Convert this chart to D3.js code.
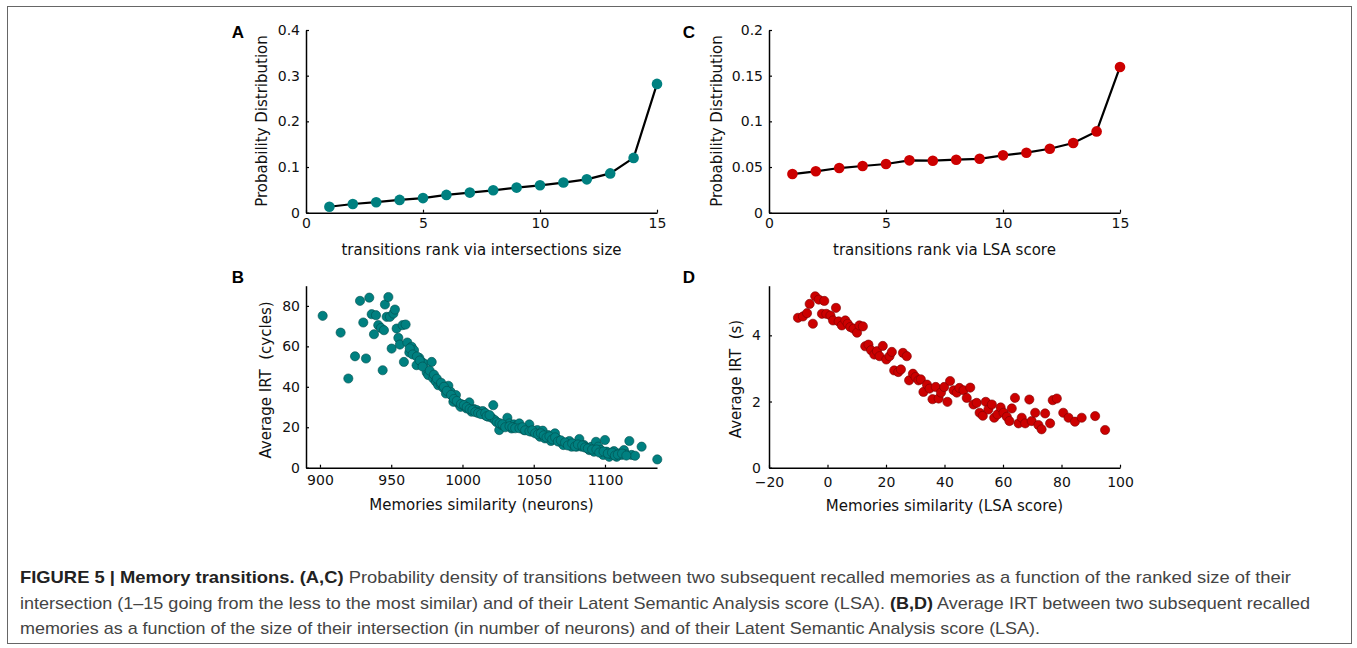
<!DOCTYPE html>
<html><head><meta charset="utf-8">
<script src="https://cdn.jsdelivr.net/npm/d3@7"></script>
<style>body{margin:0;background:#fff}svg{display:block}
.chart text{font-family:"DejaVu Sans",sans-serif}
.cap{font-family:"Liberation Sans Narrow","Arial Narrow","Liberation Sans",Arial,sans-serif}
.letter{font-family:"Liberation Sans",Arial,sans-serif}
.pre{white-space:pre}
</style>
</head><body>
<script>
// ---- data ----
const ranks = [1,2,3,4,5,6,7,8,9,10,11,12,13,14,15];
const probIntersection = [0.013,0.019,0.023,0.028,0.032,0.039,0.044,0.049,0.055,0.060,0.066,0.073,0.086,0.120,0.282];
const probLSA = [0.0423,0.0453,0.0489,0.0511,0.0533,0.0573,0.0569,0.058,0.059,0.0628,0.0657,0.070,0.0763,0.089,0.1595];

const simNeurons = [901.9,914.5,919.9,924.6,928.1,930.4,932.3,934.6,936.3,937.9,939.3,940.9,942.8,944.0,944.9,945.6,946.8,948.0,949.1,950.3,951.5,952.6,953.8,955.0,956.1,958.0,958.9,960.1,961.3,962.7,964.3,966.0,967.8,969.7,971.3,973.0,974.9,976.0,978.4,979.5,981.4,983.0,984.7,986.5,988.4,990.1,991.7,993.6,995.4,997.1,998.7,1000.6,1002.9,1004.8,1006.4,1008.1,1010.0,1012.3,1014.2,1015.8,1018.1,1021.6,1020.5,1022.8,1025.8,1027.5,1029.1,1031.5,1032.9,1034.5,1036.1,1038.0,1039.9,1041.5,1043.2,1045.0,1046.9,1048.5,1050.9,1052.5,1054.4,1056.3,1057.9,1060.2,1062.1,1064.9,1066.6,1068.4,1070.8,1073.1,1075.0,1076.6,1078.2,1080.1,1082.0,1083.6,1085.3,1087.1,1089.0,1090.6,1092.3,1093.7,1095.3,1097.0,1098.8,1100.0,1101.2,1103.0,1104.7,1106.3,1108.2,1110.1,1111.7,1113.3,1114.7,1117.1,1118.7,1121.1,1125.7,1136.7,
963,965,968,970,972,977,980,982,985,987,989,992,994,996,999,1001,1003,1005,1007,1009,1011,1013,1016,1017,1019,1024,1026,1028,1030,1033,1035,1037,1040,1042,1044,1047,1049,1051,1053,1055,1057,1059,1061,1063,1065,1067,1069,1072,1074,1077,1079,1081,1084,1086,1088,1091,1094,1096,1099,1102,1105,1107,1109,1112,1115];
const irtCycles = [75.1,66.8,44.1,55.1,82.5,71.8,54.0,84.1,75.9,66.0,75.4,70.5,69.1,48.2,68.0,80.7,74.6,84.4,74.6,58.9,76.2,78.2,68.8,64.2,60.9,70.5,52.3,70.8,61.9,57.0,59.8,58.1,50.7,54.3,52.3,51.5,47.1,45.8,52.3,44.1,42.5,40.8,41.3,39.5,36.7,40.5,37.5,32.6,35.9,31.8,30.1,30.9,29.3,32.3,27.7,29.0,28.5,27.7,28.0,26.0,25.2,30.9,24.7,23.5,18.6,21.1,20.7,24.7,21.9,19.4,21.4,20.7,21.9,19.4,18.6,19.4,21.4,17.8,17.8,18.6,15.3,18.3,14.5,16.1,13.2,17.0,14.2,12.8,11.2,12.0,13.2,10.4,11.5,10.4,14.2,10.4,11.2,9.9,8.7,10.4,7.9,12.8,10.4,8.7,6.3,13.7,7.9,5.4,6.6,8.2,5.4,7.1,6.3,8.7,6.6,13.2,6.3,5.9,10.4,4.1,
59,56,55,53,50,48,46,44,42,40,38,36,34,33,31.5,31,30,29,28.5,27.5,27,26.5,27,25.5,26,22.5,22,21.5,20,20.5,20,19.5,19.5,20,18.5,18,18.5,17,16.5,17,16,15,15.5,14,15,13,13.5,12.5,11,12,10.5,11.5,11,10,9.5,9,9,7.5,8,7,7.5,6,6.5,7,6];

const simLSA = [-10.1,-8.4,-7.0,-6.1,-5.0,-4.2,-3.0,-1.9,-1.1,-0.4,1.0,1.9,2.9,3.8,4.9,6.1,6.9,7.8,8.9,10.1,10.9,12.1,12.9,14.0,14.9,16.0,16.9,17.8,18.9,20.1,21.2,22.0,22.8,24.2,25.1,25.8,27.1,27.9,29.2,30.1,31.1,31.9,32.8,34.0,34.9,35.9,37.0,38.0,38.8,39.9,41.0,41.9,43.1,44.2,45.1,46.5,47.6,48.8,49.9,51.0,52.0,53.1,54.1,55.0,56.2,57.0,58.1,59.2,60.2,61.3,62.2,63.0,64.1,65.3,66.4,67.6,69.0,69.8,71.0,72.1,73.2,74.4,76.1,77.0,78.4,80.6,82.4,84.6,86.9,91.5,94.9];
const irtSeconds = [4.53,4.57,4.67,4.95,4.35,5.18,5.08,4.65,5.04,4.65,4.6,4.45,4.83,4.42,4.3,4.45,4.35,4.25,4.2,4.08,4.3,4.27,3.67,3.72,3.55,3.42,3.52,3.37,3.68,3.27,3.37,3.5,2.94,2.89,2.97,3.47,3.37,2.64,2.84,2.74,2.64,2.67,2.29,2.51,2.39,2.07,2.44,2.09,2.27,2.44,1.99,2.62,2.34,2.27,2.41,2.34,2.11,2.42,1.91,1.96,1.66,1.57,1.99,1.76,1.91,1.51,1.61,1.82,1.66,1.54,1.41,1.79,2.11,1.34,1.51,1.34,2.06,1.41,1.66,1.29,1.16,1.64,1.34,2.04,2.09,1.66,1.51,1.39,1.51,1.56,1.14];

const ticksA_x = [0,5,10,15], ticksA_y = [0,0.1,0.2,0.3,0.4];
const ticksC_y = [0,0.05,0.1,0.15,0.2];
const ticksB_x = [900,950,1000,1050,1100], ticksB_y = [0,20,40,60,80];
const ticksD_x = [-20,0,20,40,60,80,100], ticksD_y = [0,2,4];

const TEAL = "#008080", TEAL_DARK = "#004d4d", RED = "#cc0000", RED_DARK = "#7a0000";

const svg = d3.select("body").append("svg").attr("width",1357).attr("height",648);
svg.append("rect").attr("x",7.5).attr("y",6.5).attr("width",1344).attr("height",637)
  .attr("fill","none").attr("stroke","#666").attr("stroke-width",1);
const chart = svg.append("g").attr("class","chart");

const fmt = d => (d < 0 ? "\u2212" + (-d) : String(+(+d).toFixed(2)));

function panel(o){
  const x = d3.scaleLinear().domain(o.xDomain).range([o.x0,o.x1]);
  const y = d3.scaleLinear().domain(o.yDomain).range([o.y0,o.y1]);
  const gx = chart.append("g").attr("transform",`translate(0,${o.y0})`)
    .call(d3.axisBottom(x).tickValues(o.xTicks).tickFormat(fmt).tickSizeInner(-3).tickSizeOuter(0).tickPadding(o.xPad));
  const gy = chart.append("g").attr("transform",`translate(${o.x0},0)`)
    .call(d3.axisLeft(y).tickValues(o.yTicks).tickFormat(fmt).tickSizeInner(-3).tickSizeOuter(0).tickPadding(o.yPad || 6));
  [gx,gy].forEach(g=>{
    g.attr("font-family",null).attr("font-size",null);
    g.select(".domain").attr("stroke","#000").attr("stroke-width",1.5);
    g.selectAll(".tick line").attr("stroke","#000").attr("stroke-width",1.2);
    g.selectAll(".tick text").style("font-size","14px").attr("fill","#111");
  });
  chart.append("text").attr("x",(o.x0+o.x1)/2).attr("y",o.xLabelY).attr("text-anchor","middle")
    .attr("dominant-baseline","central").style("font-size","15px").attr("fill","#111").text(o.xLabel);
  chart.append("text").attr("class","pre").attr("transform",`translate(${o.yLabelX},${o.yLabelCY}) rotate(-90)`).attr("text-anchor","middle")
    .attr("dominant-baseline","central").style("font-size","15px").attr("fill","#111").text(o.yLabel);
  svg.append("text").attr("class","letter").attr("x",o.letterX).attr("y",o.letterY).attr("text-anchor","middle").attr("dominant-baseline","central")
    .attr("font-weight","bold").style("font-size","17px").attr("fill","#000").text(o.letter);
  return {x,y};
}

// A
let s = panel({x0:306,x1:657,y0:212.7,y1:30,xDomain:[0,15],yDomain:[0,0.4],xTicks:ticksA_x,yTicks:ticksA_y,xPad:5,
  xLabel:"transitions rank via intersections size",xLabelY:250,yLabel:"Probability Distribution",yLabelX:262,yLabelCY:121,
  letter:"A",letterX:238,letterY:32});
chart.append("path").datum(ranks.map((r,i)=>[r,probIntersection[i]]))
  .attr("d",d3.line().x(d=>s.x(d[0])).y(d=>s.y(d[1]))).attr("fill","none").attr("stroke","#000").attr("stroke-width",2.2);
chart.append("g").selectAll("circle").data(ranks.map((r,i)=>[r,probIntersection[i]])).join("circle")
  .attr("cx",d=>s.x(d[0])).attr("cy",d=>s.y(d[1])).attr("r",5.3).attr("fill",TEAL);

// C
s = panel({x0:769,x1:1120,y0:212.7,y1:30,xDomain:[0,15],yDomain:[0,0.2],xTicks:ticksA_x,yTicks:ticksC_y,xPad:5,
  xLabel:"transitions rank via LSA score",xLabelY:250,yLabel:"Probability Distribution",yLabelX:717,yLabelCY:121,
  letter:"C",letterX:689,letterY:32});
chart.append("path").datum(ranks.map((r,i)=>[r,probLSA[i]]))
  .attr("d",d3.line().x(d=>s.x(d[0])).y(d=>s.y(d[1]))).attr("fill","none").attr("stroke","#000").attr("stroke-width",2.2);
chart.append("g").selectAll("circle").data(ranks.map((r,i)=>[r,probLSA[i]])).join("circle")
  .attr("cx",d=>s.x(d[0])).attr("cy",d=>s.y(d[1])).attr("r",5.3).attr("fill",RED);

// B
s = panel({x0:306,x1:657,y0:467.7,y1:285.7,xDomain:[890.2,1136.5],yDomain:[0,90],xTicks:ticksB_x,yTicks:ticksB_y,xPad:7.5,
  xLabel:"Memories similarity (neurons)",xLabelY:505,yLabel:"Average IRT  (cycles)",yLabelX:266,yLabelCY:380,
  letter:"B",letterX:238,letterY:277});
chart.append("g").selectAll("circle").data(simNeurons.map((v,i)=>[v,irtCycles[i]])).join("circle")
  .attr("cx",d=>s.x(d[0])).attr("cy",d=>s.y(d[1])).attr("r",4.6).attr("fill",TEAL).attr("stroke",TEAL_DARK).attr("stroke-width",0.6);

// D
s = panel({x0:769,x1:1120,y0:467.7,y1:285.7,xDomain:[-20,100],yDomain:[0,5.5],xTicks:ticksD_x,yTicks:ticksD_y,xPad:9,yPad:8,
  xLabel:"Memories similarity (LSA score)",xLabelY:506,yLabel:"Average IRT  (s)",yLabelX:736,yLabelCY:379,
  letter:"D",letterX:689,letterY:277});
chart.append("g").selectAll("circle").data(simLSA.map((v,i)=>[v,irtSeconds[i]])).join("circle")
  .attr("cx",d=>s.x(d[0])).attr("cy",d=>s.y(d[1])).attr("r",4.6).attr("fill",RED).attr("stroke",RED_DARK).attr("stroke-width",0.6);

// caption
const lines = [
  {y:583, w:1271, parts:[["FIGURE 5 | Memory transitions. (A,C)",true],[" Probability density of transitions between two subsequent recalled memories as a function of the ranked size of their",false]]},
  {y:609, w:1290, parts:[["intersection (1\u201315 going from the less to the most similar) and of their Latent Semantic Analysis score (LSA). ",false],["(B,D)",true],[" Average IRT between two subsequent recalled",false]]},
  {y:634, w:1020, parts:[["memories as a function of the size of their intersection (in number of neurons) and of their Latent Semantic Analysis score (LSA).",false]]}
];
lines.forEach(l=>{
  const t = svg.append("text").attr("class","cap").attr("x",20).attr("y",l.y).style("font-size","17px")
    .attr("fill","#333").attr("textLength",l.w).attr("lengthAdjust","spacingAndGlyphs").attr("xml:space","preserve");
  l.parts.forEach(p=>t.append("tspan").attr("font-weight",p[1]?"bold":"normal").attr("fill",p[1]?"#222":"#444").text(p[0]));
});
</script>
</body></html>
